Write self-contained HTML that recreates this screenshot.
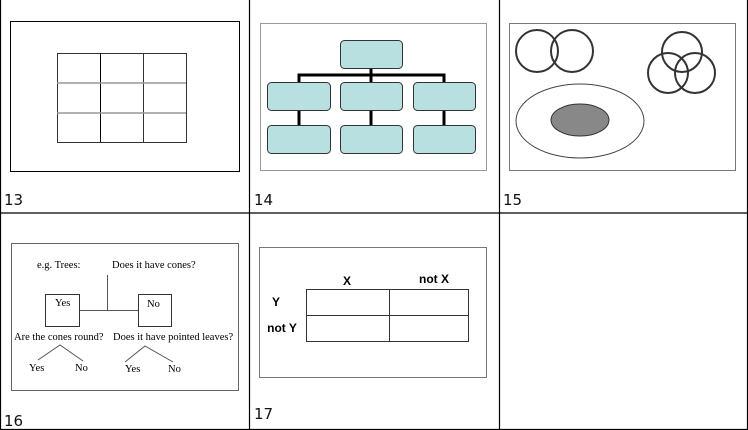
<!DOCTYPE html>
<html><head><style>
body{margin:0;width:748px;height:430px;background:#fff;overflow:hidden}
svg{display:block}
.n{font-family:"DejaVu Sans","Liberation Sans",sans-serif;font-size:15px;font-weight:normal;fill:#111}
.s{font-family:"Liberation Serif",serif;font-size:10.5px;fill:#000}
.b{font-family:"Liberation Sans",sans-serif;font-size:12px;font-weight:bold;fill:#000}
</style></head><body>
<svg width="748" height="430" viewBox="0 0 748 430">
<g stroke="#000" stroke-width="1.2" fill="none">
<line x1="0.5" y1="0" x2="0.5" y2="430"/><line x1="249.5" y1="0" x2="249.5" y2="430"/>
<line x1="499.5" y1="0" x2="499.5" y2="430"/><line x1="747.5" y1="0" x2="747.5" y2="430"/>
<line x1="0" y1="213" x2="748" y2="213"/><line x1="0" y1="429.5" x2="748" y2="429.5"/>
</g>
<!-- 13 -->
<rect x="10.5" y="21.5" width="229" height="150" fill="none" stroke="#000"/>
<g stroke="#333" fill="none">
<rect x="57.5" y="53.5" width="129" height="89"/>
<line x1="100.5" y1="53" x2="100.5" y2="142" stroke="#000"/><line x1="143.5" y1="53" x2="143.5" y2="142"/>
<line x1="57" y1="83" x2="186" y2="83" stroke="#999" stroke-width="1.5"/><line x1="57" y1="113" x2="186" y2="113" stroke="#999" stroke-width="1.5"/>
</g>
<text class="n" x="4" y="205">13</text>
<!-- 14 -->
<rect x="260.5" y="23.5" width="226" height="147" fill="none" stroke="#999"/>
<g stroke="#000" stroke-width="3" fill="none">
<polyline points="299,82 299,75 444,75 444,82"/><line x1="371" y1="68" x2="371" y2="82"/>
<line x1="299" y1="110" x2="299" y2="125"/><line x1="371" y1="110" x2="371" y2="125"/><line x1="444" y1="110" x2="444" y2="125"/>
</g>
<g fill="#b9e0e0" stroke="#333">
<rect x="340.5" y="40.5" width="62" height="28" rx="4"/>
<rect x="267.5" y="82.5" width="63" height="28" rx="4"/><rect x="340.5" y="82.5" width="62" height="28" rx="4"/><rect x="413.5" y="82.5" width="62" height="28" rx="4"/>
<rect x="267.5" y="125.5" width="63" height="28" rx="4"/><rect x="340.5" y="125.5" width="62" height="28" rx="4"/><rect x="413.5" y="125.5" width="62" height="28" rx="4"/>
</g>
<text class="n" x="254" y="205">14</text>
<!-- 15 -->
<rect x="509.5" y="23.5" width="226" height="147" fill="none" stroke="#777"/>
<g fill="none" stroke="#333" stroke-width="2">
<circle cx="537" cy="51" r="21"/><circle cx="572" cy="51" r="21"/>
<circle cx="682" cy="52" r="20"/><circle cx="668" cy="73" r="20"/><circle cx="695" cy="73" r="20"/>
</g>
<ellipse cx="580" cy="121" rx="64" ry="37" fill="none" stroke="#444"/>
<ellipse cx="580" cy="120" rx="29" ry="16" fill="#888" stroke="#333"/>
<text class="n" x="503" y="205">15</text>
<!-- 16 -->
<rect x="11.5" y="243.5" width="227" height="147" fill="none" stroke="#666"/>
<text class="s" x="37" y="268">e.g. Trees:</text>
<text class="s" x="112" y="268">Does it have cones?</text>
<g stroke="#555" fill="none">
<line x1="107.5" y1="275" x2="107.5" y2="310"/><line x1="79" y1="310.5" x2="138" y2="310.5"/>
<rect x="45.5" y="294.5" width="34" height="32" stroke="#333"/><rect x="138.5" y="294.5" width="33" height="32" stroke="#333"/>
<polyline points="38,360 60,345 83,361"/><polyline points="125,362 145,346 173,362"/>
</g>
<text class="s" x="55" y="306">Yes</text><text class="s" x="147" y="307">No</text>
<text class="s" x="14" y="340">Are the cones round?</text>
<text class="s" x="113" y="340">Does it have pointed leaves?</text>
<text class="s" x="29" y="371">Yes</text><text class="s" x="75" y="371">No</text>
<text class="s" x="125" y="372">Yes</text><text class="s" x="168" y="372">No</text>
<text class="n" x="4" y="426">16</text>
<!-- 17 -->
<rect x="259.5" y="247.5" width="227" height="130" fill="none" stroke="#777"/>
<g stroke="#333" fill="none">
<rect x="306.5" y="289.5" width="162" height="52"/>
<line x1="389.5" y1="289" x2="389.5" y2="341"/><line x1="306" y1="315.5" x2="468" y2="315.5"/>
</g>
<text class="b" x="347" y="285" text-anchor="middle">X</text>
<text class="b" x="434" y="283" text-anchor="middle">not X</text>
<text class="b" x="276" y="306" text-anchor="middle">Y</text>
<text class="b" x="282" y="332" text-anchor="middle">not Y</text>
<text class="n" x="254" y="419">17</text>
</svg>
</body></html>
